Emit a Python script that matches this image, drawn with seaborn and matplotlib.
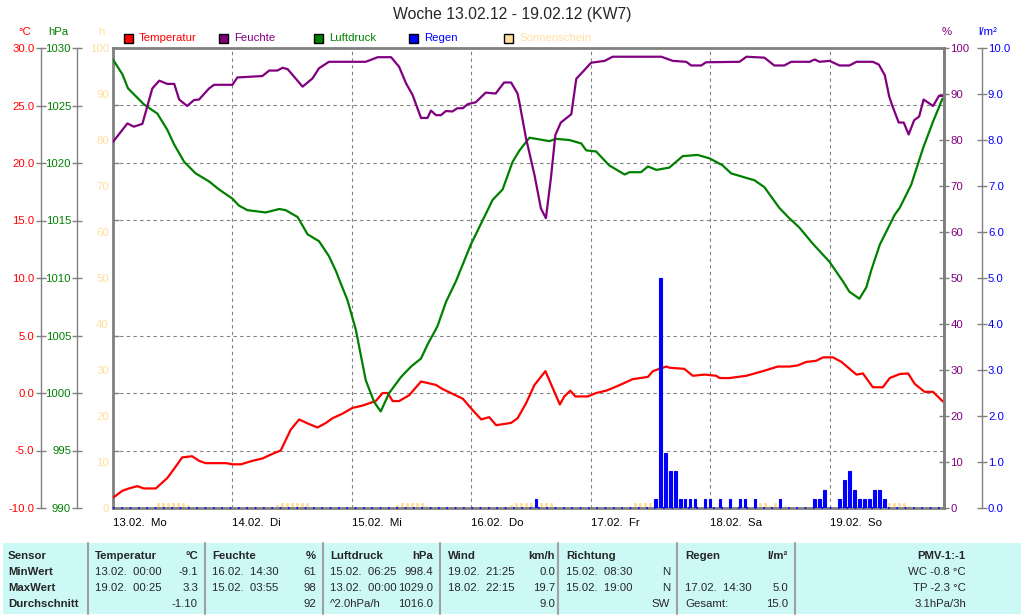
import matplotlib
matplotlib.use("Agg")
import matplotlib.pyplot as plt
import matplotlib.ticker as mticker
import matplotlib.transforms as transforms
from matplotlib.patches import Rectangle
import seaborn as sns

# Stunden ab 13.02. 00:00
temp_h = [0, 1.9, 3.2, 4.9, 6.2, 8.6, 10.9, 12.6, 13.9, 15.9, 17.3, 18.6, 22.7, 24.0, 25.7, 28.0,
          30.0, 32.0, 33.7, 35.7, 37.4, 39.4, 41.1, 42.8, 44.1, 46.1, 48.1, 50.1, 52.8, 54.2, 55.2,
          56.2, 57.5, 59.5, 61.9, 64.9, 66.2, 70.3, 72.3, 74.0, 75.6, 77.0, 80.0, 81.3, 83.0, 84.7,
          86.9, 88.4, 89.8, 90.7, 91.9, 92.9, 95.4, 97.1, 99.1, 100.8, 102.4, 104.4, 107.5, 108.5,
          109.8, 111.2, 111.8, 114.8, 116.5, 118.9, 121.2, 121.9, 123.9, 127.3, 130.6, 133.6, 136.0,
          137.6, 139.3, 141.3, 142.7, 144.7, 146.4, 149.4, 150.7, 152.7, 154.7, 156.1, 158.1, 159.8,
          161.1, 163.1, 164.8, 166.8]
temp_c = [-9.1, -8.5, -8.3, -8.1, -8.3, -8.3, -7.4, -6.4, -5.6, -5.5, -5.9, -6.1, -6.1, -6.2, -6.2, -5.9,
          -5.7, -5.3, -5.0, -3.2, -2.3, -2.7, -3.0, -2.6, -2.2, -1.8, -1.3, -1.1, -0.7, 0.0, 0.0,
          -0.7, -0.7, -0.2, 1.0, 0.7, 0.35, -0.5, -1.5, -2.3, -2.1, -2.8, -2.6, -2.2, -0.9, 0.7,
          1.9, 0.4, -1.0, -0.3, 0.2, -0.3, -0.3, 0.0, 0.2, 0.5, 0.8, 1.2, 1.4, 1.9,
          2.1, 2.3, 2.2, 2.1, 1.5, 1.6, 1.5, 1.3, 1.3, 1.5, 1.9, 2.3, 2.3,
          2.4, 2.7, 2.8, 3.1, 3.1, 2.7, 1.6, 1.7, 0.5, 0.5, 1.3, 1.65, 1.7,
          0.8, 0.1, 0.1, -0.75]

feuchte_h = [0, 2.9, 4.2, 5.9, 7.9, 9.3, 10.9, 12.3, 13.3, 14.9, 16.3, 17.3, 19.3, 20.3, 24.0, 25.0,
             30.0, 31.4, 33.0, 34.1, 35.1, 38.1, 40.1, 41.4, 43.4, 50.8, 53.2, 55.9, 57.5, 58.9, 60.2,
             61.9, 63.2, 63.9, 64.9, 65.9, 66.9, 68.2, 69.2, 70.3, 71.3, 72.9, 74.9, 76.9, 78.6, 80.0,
             81.3, 81.7, 83.0, 84.7, 86.0, 87.0, 88.0, 88.9, 90.0, 92.1, 93.1, 96.1, 98.8, 100.4, 110.2,
             112.5, 115.2, 116.2, 118.2, 119.2, 125.9, 127.3, 130.9, 132.9, 134.9, 136.3, 140.0, 141.0,
             142.0, 144.0, 146.0, 148.0, 149.4, 152.7, 153.9, 155.1, 156.0, 156.7, 157.9, 158.9, 159.9,
             161.0, 162.0, 162.9, 164.8, 166.0, 166.8]
feuchte_pct = [79.6, 83.6, 82.9, 83.5, 91.2, 92.9, 92.2, 92.2, 88.8, 87.4, 88.7, 88.8, 91.2, 92.0, 92.0, 93.6,
               93.9, 95.1, 95.1, 95.7, 95.4, 91.6, 93.4, 95.6, 97.0, 97.0, 98.0, 98.0, 95.9, 92.3, 89.8,
               84.8, 84.8, 86.4, 85.4, 85.4, 86.3, 86.2, 86.9, 86.9, 87.8, 88.2, 90.3, 90.1, 92.5, 92.5,
               90.1, 88.0, 80.4, 72.4, 65.1, 63.0, 71.7, 81.1, 83.8, 85.6, 93.3, 96.8, 97.2, 98.1, 98.1,
               97.2, 97.0, 96.2, 96.2, 96.9, 97.0, 98.1, 97.9, 96.2, 96.2, 97.0, 97.0, 97.5,
               97.0, 97.2, 96.2, 96.2, 97.0, 97.0, 96.4, 94.1, 89.4, 87.2, 83.8, 83.8, 81.2,
               84.3, 85.1, 88.8, 87.4, 89.6, 89.6]

druck_h = [0, 1.9, 3.0, 6.2, 8.9, 10.9, 12.3, 14.3, 16.6, 19.3, 21.3, 24.0, 25.3, 27.0, 30.7, 33.4,
           34.7, 37.1, 39.1, 41.4, 43.4, 44.8, 45.8, 47.1, 48.8, 50.8, 52.5, 53.8, 55.5, 57.9, 59.9,
           61.9, 63.2, 65.2, 66.9, 68.9, 71.9, 76.3, 78.3, 80.3, 81.7, 83.7, 87.7, 89.0, 91.7, 94.1,
           95.1, 97.1, 99.7, 102.8, 103.8, 106.1, 107.5, 109.2, 111.8, 114.5, 117.5, 119.9, 122.5,
           124.2, 127.3, 128.9, 130.9, 133.9, 135.9, 137.9, 140.6, 144.0, 146.7, 148.0, 150.0, 151.4,
           152.4, 154.1, 157.1, 158.1, 160.4, 162.8, 164.8, 166.7]
druck_hpa = [1029.0, 1027.7, 1026.5, 1025.1, 1024.3, 1022.9, 1021.6, 1020.1, 1019.1, 1018.4, 1017.7,
             1016.9, 1016.3, 1015.9, 1015.7, 1016.0, 1015.9, 1015.3, 1013.8, 1013.2, 1011.9, 1010.6,
             1009.5, 1008.1, 1005.5, 1001.1, 999.2, 998.4, 1000.0, 1001.4, 1002.3, 1003.0, 1004.2,
             1005.8, 1007.9, 1009.7, 1012.9, 1016.8, 1017.7, 1020.1, 1021.1, 1022.2, 1021.9, 1022.1,
             1022.0, 1021.7, 1021.1, 1021.0, 1019.8, 1019.0, 1019.2, 1019.2, 1019.7, 1019.4, 1019.6,
             1020.6, 1020.7, 1020.4, 1019.8, 1019.1, 1018.7, 1018.5, 1017.9, 1016.1, 1015.2, 1014.4,
             1013.0, 1011.4, 1009.7, 1008.8, 1008.2, 1009.2, 1010.7, 1012.9, 1015.5, 1016.1, 1018.1,
             1021.3, 1023.6, 1025.6]

regen_h = [85, 109, 110, 111, 112, 113, 114, 115, 116, 117, 119, 120, 122, 124, 126, 127, 129, 134,
           141, 142, 143, 146, 147, 148, 149, 150, 151, 152, 153, 154, 155]
regen_mm = [0.2, 0.2, 5.0, 1.2, 0.8, 0.8, 0.2, 0.2, 0.2, 0.2, 0.2, 0.2, 0.2, 0.2, 0.2, 0.2, 0.2, 0.2,
            0.2, 0.2, 0.4, 0.2, 0.6, 0.8, 0.4, 0.2, 0.2, 0.2, 0.4, 0.4, 0.2]

sonne_h = [9, 10, 11, 12, 13, 14, 15, 33, 34, 35, 36, 37, 38, 39, 40, 57, 58, 59, 60, 61, 62, 63,
           80, 81, 82, 83, 84, 86, 87, 88, 105, 106, 107, 108, 130, 131, 132, 133, 135,
           156, 157, 158, 159, 160]
sonne_v = [1.0, 1.0, 1.0, 1.0, 1.0, 1.0, 0.7, 0.6, 1.0, 1.0, 1.0, 1.0, 1.0, 1.0, 0.3, 0.6, 1.0, 1.0, 1.0, 1.0, 1.0, 0.4,
           0.6, 1.0, 1.0, 1.0, 1.0, 1.0, 1.0, 1.0, 1.0, 1.0, 1.0, 1.0, 1.0, 1.0, 0.5, 1.0, 0.5,
           1.0, 1.0, 1.0, 1.0, 0.4]

tage = ["13.02.  Mo", "14.02.  Di", "15.02.  Mi", "16.02.  Do", "17.02.  Fr", "18.02.  Sa", "19.02.  So"]

kopf = ["Temperatur", "Feuchte", "Luftdruck", "Wind", "Richtung", "Regen"]
einheit = ["°C", "%", "hPa", "km/h", "", "l/m²"]
zeit_spalten = [["13.02.  00:00", "19.02.  00:25", ""],
                ["16.02.  14:30", "15.02.  03:55", ""],
                ["15.02.  06:25", "13.02.  00:00", "^2.0hPa/h"],
                ["19.02.  21:25", "18.02.  22:15", ""],
                ["15.02.  08:30", "15.02.  19:00", ""],
                ["", "17.02.  14:30", "Gesamt:"]]
wert_spalten = [["-9.1", "3.3", "-1.10"],
                ["61", "98", "92"],
                ["998.4", "1029.0", "1016.0"],
                ["0.0", "19.7", "9.0"],
                ["N", "N", "SW"],
                ["", "5.0", "15.0"]]
pmv = ["PMV-1:-1", "WC -0.8 °C", "TP -2.3 °C", "3.1hPa/3h"]

ROT, LILA, GRUEN, BLAU, SONNE, GRAU = "#ff0000", "#800080", "#008000", "#0000ff", "#ffdf9e", "#808080"

sns.set_theme(style="white")
plt.rcParams['font.family'] = ['Liberation Sans', 'DejaVu Sans']

W, H = 1024, 615
fig = plt.figure(figsize=(W / 100, H / 100), dpi=100)
fig.patch.set_facecolor("white")

def fx(x):
    return x / W

def fy(y):
    return 1 - y / H

L, R, T, B = 113, 944, 48, 508
ax = fig.add_axes([fx(L), fy(B), (R - L) / W, (B - T) / H])
ax.set_facecolor("white")

# Sonnenschein (Hauptachse, h)
ax.bar(sonne_h, sonne_v, width=0.4, color=SONNE, edgecolor=SONNE, linewidth=0.6, zorder=2)
ax.set_xlim(0, 167)
ax.set_ylim(0, 100)
ax.set_xticks(range(0, 168, 24))
ax.set_xticklabels(tage, ha="left", fontsize=8.2)
for lab in ax.get_xticklabels():
    lab.set_transform(lab.get_transform() + transforms.ScaledTranslation(-0.16, 0, fig.dpi_scale_trans))
ax.set_yticks(range(0, 101, 10))
ax.yaxis.set_major_formatter(mticker.FormatStrFormatter("%d"))
ax.set_yticks([12.5 * i for i in range(1, 8)], minor=True)
ax.tick_params(axis="x", direction="out", length=4, width=1, color=GRAU, labelcolor="black", pad=3)
ax.tick_params(axis="y", which="major", length=0, labelcolor=SONNE, labelsize=8.2, pad=3)
ax.tick_params(axis="y", which="minor", direction="in", length=4, width=1, color=GRAU, left=True)
ax.grid(True, which="major", axis="x", color=GRAU, linestyle=(0, (3, 3)), linewidth=0.8)
ax.grid(True, which="minor", axis="y", color=GRAU, linestyle=(0, (3, 3)), linewidth=0.8)
ax.grid(False, which="major", axis="y")
for s in ax.spines.values():
    s.set_color(GRAU)
    s.set_linewidth(2)
    s.set_visible(True)
ax.set_xlabel("")
ax.set_ylabel("")


def zusatzachse(seite, pos, farbe, lim, ticks, fmt):
    a = ax.twinx()
    a.set_ylim(*lim)
    for s in a.spines.values():
        s.set_visible(False)
    sp = a.spines[seite]
    sp.set_visible(True)
    sp.set_position(("axes", pos))
    sp.set_color(GRAU)
    sp.set_linewidth(1 if pos not in (0, 1) else 2)
    if seite == "left":
        a.yaxis.tick_left()
    else:
        a.yaxis.tick_right()
    a.set_yticks(ticks)
    a.yaxis.set_major_formatter(mticker.FormatStrFormatter(fmt))
    a.tick_params(axis="y", direction="inout", length=7, width=1, color=GRAU,
                  labelcolor=farbe, labelsize=8.2, pad=1)
    a.grid(False)
    return a


ax_t = zusatzachse("left", (40.7 - L) / (R - L), ROT, (-10, 30), range(-10, 31, 5), "%.1f")
ax_p = zusatzachse("left", (77.3 - L) / (R - L), GRUEN, (990, 1030), range(990, 1031, 5), "%d")
ax_f = zusatzachse("right", 1.0, LILA, (0, 100), range(0, 101, 10), "%d")
ax_r = zusatzachse("right", (981.7 - L) / (R - L), BLAU, (0, 10), range(0, 11, 1), "%.1f")

# Regen
ax_r.bar(regen_h, regen_mm, width=0.5, color=BLAU, edgecolor=BLAU, linewidth=0.8, zorder=2)
ax_r.axhline(0, color=BLAU, linestyle=(0, (1, 4)), linewidth=1.2, zorder=5, clip_on=False)

sns.lineplot(x=druck_h, y=druck_hpa, ax=ax_p, color=GRUEN, linewidth=1.6, estimator=None)
sns.lineplot(x=feuchte_h, y=feuchte_pct, ax=ax_f, color=LILA, linewidth=1.6, estimator=None)
sns.lineplot(x=temp_h, y=temp_c, ax=ax_t, color=ROT, linewidth=1.6, estimator=None)
for a in (ax_t, ax_p, ax_f, ax_r):
    a.set_xlim(0, 167)
    a.set_ylabel("")
    a.set_xlabel("")

# Titel, Einheiten, Legende
fig.text(0.5, fy(15), "Woche 13.02.12 - 19.02.12 (KW7)", ha="center", va="center", fontsize=11.3)
for x, t, c in [(25, "°C", ROT), (58, "hPa", GRUEN), (101, "h", SONNE), (947, "%", LILA), (988, "l/m²", BLAU)]:
    fig.text(fx(x), fy(32), t, ha="center", va="center", fontsize=8.2, color=c)
for x, t, c in [(124, "Temperatur", ROT), (219, "Feuchte", LILA), (314, "Luftdruck", GRUEN),
                (409, "Regen", BLAU), (504, "Sonnenschein", SONNE)]:
    fig.patches.append(Rectangle((fx(x), fy(43)), 9 / W, 9 / H, transform=fig.transFigure,
                                 facecolor=c, edgecolor="black", linewidth=1))
    fig.text(fx(x + 15), fy(38), t, ha="left", va="center", fontsize=8.2, color=c)

# Tabelle unten
fig.patches.append(Rectangle((fx(3), fy(614)), (1021 - 3) / W, (614 - 543) / H, transform=fig.transFigure,
                             facecolor="#ccf8f6", edgecolor="none", zorder=0))
for x in [88, 205, 323, 440, 558, 677, 795]:
    fig.add_artist(plt.Line2D([fx(x), fx(x)], [fy(543), fy(614)], color="#a0a0a0", linewidth=1.5,
                              transform=fig.transFigure))
zeilen = [556, 572, 588, 604]
for i, t in enumerate(["Sensor", "MinWert", "MaxWert", "Durchschnitt"]):
    fig.text(fx(8), fy(zeilen[i]), t, ha="left", va="center", fontsize=8.2, fontweight="bold")
spalte_x = [95, 212, 330, 448, 566, 685]
spalte_r = [198, 316, 433, 555, 670, 788]
for j in range(6):
    fig.text(fx(spalte_x[j]), fy(zeilen[0]), kopf[j], ha="left", va="center", fontsize=8.2, fontweight="bold")
    fig.text(fx(spalte_r[j]), fy(zeilen[0]), einheit[j], ha="right", va="center", fontsize=8.2, fontweight="bold")
    for i in range(3):
        fig.text(fx(spalte_x[j]), fy(zeilen[i + 1]), zeit_spalten[j][i], ha="left", va="center", fontsize=8.2)
        fig.text(fx(spalte_r[j]), fy(zeilen[i + 1]), wert_spalten[j][i], ha="right", va="center", fontsize=8.2)
for i, t in enumerate(pmv):
    fig.text(fx(966), fy(zeilen[i]), t, ha="right", va="center", fontsize=8.2,
             fontweight="bold" if i == 0 else "normal")

fig.savefig("out.png", dpi=100)
